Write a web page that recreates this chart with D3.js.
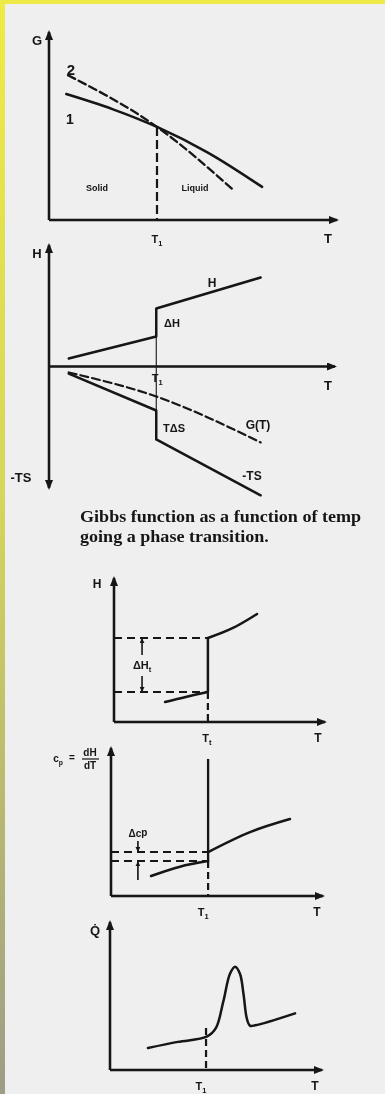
<!DOCTYPE html>
<html><head><meta charset="utf-8">
<script src="https://cdn.jsdelivr.net/npm/d3@7"></script>
<style>
html,body{margin:0;padding:0;background:#efefef;}
svg{display:block}
</style></head><body>
<svg id="c" width="385" height="1094"></svg>
<script>
// Thermodynamics of a first-order phase transition, five stacked panels.
// All values are in arbitrary axis units (0..10 unless noted).

// Panel 1: Gibbs energy of phase 1 (solid) and phase 2 (dashed)
const gT1 = 3.75;
const gPhase1 = [[0.6,6.7],[2.2,5.9],[3.75,4.95],[5.5,3.6],[7.4,1.76]];
const gPhase2 = [[0.66,7.7],[3.75,4.95],[6.4,1.6]];

// Panel 2: enthalpy, -TS and G(T) around the transition
const hsT1 = 3.75;
const enthalpy = [[0.69,0.66],[3.75,2.47],[3.75,4.77],[7.4,7.33]];
const negTS = [[0.69,-0.58],[3.75,-3.62],[3.75,-6.0],[7.4,-10.6]];
const gibbsT = [[0.69,-0.49],[3.75,-2.47],[7.4,-6.25]];

// Panel 3: H(T) with latent heat step
const hT1 = 4.45;
const hLow = [[2.42,1.39],[3.4,1.74],[4.45,2.08]];
const hHigh = [[4.45,5.83],[5.64,6.53],[6.78,7.5]];
const hLevels = [5.83, 2.08];

// Panel 4: heat capacity cp = dH/dT
const cT1 = 4.58;
const cpLow = [[1.89,1.35],[3.25,1.98],[4.58,2.36]];
const cpHigh = [[4.58,2.97],[6.56,4.32],[8.44,5.2]];
const cpLevels = [2.97, 2.36];
const cpSpike = 9.26;

// Panel 5: measured heat flow with the transition peak
const qT1 = 4.53;
const heatFlow = [[1.79,1.49],[3.2,1.9],[4.56,2.25],[5.0,2.85],[5.34,4.6],[5.66,6.5],
  [5.9,6.98],[6.13,6.5],[6.3,5.1],[6.45,3.5],[6.6,3.0],[6.85,3.02],[8.73,3.83]];

const ink = "#141414";
const svg = d3.select("#c");
const defs = svg.append("defs");

const edge = defs.append("linearGradient").attr("id","edge")
  .attr("x1",0).attr("y1",0).attr("x2",0).attr("y2",1);
edge.append("stop").attr("offset","0%").attr("stop-color","#eeeb45");
edge.append("stop").attr("offset","45%").attr("stop-color","#d6d65a");
edge.append("stop").attr("offset","100%").attr("stop-color","#9d9d88");

defs.append("filter").attr("id","soft")
  .attr("x","-5%").attr("y","-5%").attr("width","110%").attr("height","110%")
  .append("feGaussianBlur").attr("stdDeviation",0.55);

defs.append("marker").attr("id","arw").attr("markerUnits","userSpaceOnUse")
  .attr("viewBox","0 0 10 8").attr("markerWidth",10).attr("markerHeight",8)
  .attr("refX",8).attr("refY",4).attr("orient","auto-start-reverse")
  .append("path").attr("d","M0,0L10,4L0,8Z").attr("fill",ink);
defs.append("marker").attr("id","tip").attr("markerUnits","userSpaceOnUse")
  .attr("viewBox","0 0 6 6").attr("markerWidth",5).attr("markerHeight",5)
  .attr("refX",5).attr("refY",3).attr("orient","auto")
  .append("path").attr("d","M0,0L6,3L0,6Z").attr("fill",ink);

svg.append("rect").attr("width",385).attr("height",1094).attr("fill","#efefef");
svg.append("rect").attr("width",5).attr("height",1094).attr("fill","url(#edge)");
svg.append("rect").attr("width",385).attr("height",4).attr("fill","#ece948");

const root = svg.append("g").attr("filter","url(#soft)");
const sans = "'Liberation Sans', Arial, sans-serif";

function text(x, y, s, size, anchor) {
  return root.append("text").attr("x",x).attr("y",y).text(s)
    .attr("font-family",sans).attr("font-weight","bold")
    .attr("font-size",size).attr("fill",ink)
    .attr("text-anchor",anchor || "middle");
}
function sub(x, y, base, subs, size) {
  const t = text(x, y, base, size);
  t.append("tspan").attr("font-size",size*0.68).attr("dy",size*0.25).text(subs);
  return t;
}
function path(pts, x, y, curve, w, dash) {
  return root.append("path").datum(pts)
    .attr("d", d3.line().x(d=>x(d[0])).y(d=>y(d[1])).curve(curve)(pts))
    .attr("fill","none").attr("stroke",ink).attr("stroke-width",w)
    .attr("stroke-linecap","round").attr("stroke-linejoin","round")
    .attr("stroke-dasharray",dash || null);
}
function seg(x1,y1,x2,y2,w,dash) {
  return root.append("line").attr("x1",x1).attr("y1",y1).attr("x2",x2).attr("y2",y2)
    .attr("stroke",ink).attr("stroke-width",w).attr("stroke-dasharray",dash || null);
}
function axes(x, y, both) {
  const [x0, x1] = x.range();
  const y0 = both ? y(0) : y.range()[0];
  seg(x0, y0, x1, y0, 2.6).attr("marker-end","url(#arw)");
  const v = seg(x0, y.range()[0], x0, y.range()[1], 2.6).attr("marker-end","url(#arw)");
  if (both) v.attr("marker-start","url(#arw)");
}

// ---- Panel 1
{
  const x = d3.scaleLinear().domain([0,10]).range([49,337]);
  const y = d3.scaleLinear().domain([0,10]).range([220,32]);
  axes(x, y);
  seg(x(gT1), y(4.95), x(gT1), y(0), 2.2, "9,4");
  path(gPhase1, x, y, d3.curveMonotoneX, 2.5);
  path(gPhase2, x, y, d3.curveMonotoneX, 2.3, "8,4");
  text(37, 45, "G", 13);
  text(71, 75, "2", 15);
  text(70, 124, "1", 14);
  text(97, 191, "Solid", 9);
  text(195, 191, "Liquid", 9);
  sub(x(gT1), 243, "T", "1", 11);
  text(328, 243, "T", 13);
}

// ---- Panel 2
{
  const x = d3.scaleLinear().domain([0,10]).range([49,335]);
  const y = d3.scaleLinear().domain([-10,10]).range([488,245]);
  axes(x, y, true);
  seg(x(hsT1), y(2.47), x(hsT1), y(-3.62), 1.1);
  path(enthalpy, x, y, d3.curveLinear, 2.5);
  path(negTS, x, y, d3.curveLinear, 2.5);
  path(gibbsT, x, y, d3.curveMonotoneX, 2.2, "8,4");
  text(37, 258, "H", 13);
  text(21, 482, "-TS", 13);
  text(328, 390, "T", 13);
  sub(x(hsT1) + 1, 382, "T", "1", 11);
  text(212, 287, "H", 12);
  text(172, 327, "ΔH", 11);
  text(174, 432, "TΔS", 11);
  text(258, 429, "G(T)", 12);
  text(252, 480, "-TS", 12);
}

// ---- Caption
{
  const cap = root.append("g").attr("transform","translate(80,0) scale(1.13,1)")
    .attr("font-family","'Liberation Serif', 'Times New Roman', serif")
    .attr("font-weight","bold").attr("font-size",16).attr("fill",ink);
  cap.append("text").attr("x",0).attr("y",522).text("Gibbs function as a function of temp");
  cap.append("text").attr("x",0).attr("y",542).text("going a phase transition.");
}

// ---- Panel 3
{
  const x = d3.scaleLinear().domain([0,10]).range([114,325]);
  const y = d3.scaleLinear().domain([0,10]).range([722,578]);
  axes(x, y);
  hLevels.forEach(v => seg(x(0), y(v), x(hT1), y(v), 2, "8,5"));
  seg(x(hT1), y(hLevels[0]), x(hT1), y(hLevels[1]), 2.5);
  seg(x(hT1), y(hLevels[1]), x(hT1), y(0), 2.2, "7,4");
  path(hLow, x, y, d3.curveMonotoneX, 2.5);
  path(hHigh, x, y, d3.curveMonotoneX, 2.5);
  seg(x(1.33), 655, x(1.33), y(hLevels[0]) + 1, 1.6).attr("marker-end","url(#tip)");
  seg(x(1.33), 676, x(1.33), y(hLevels[1]) - 1, 1.6).attr("marker-end","url(#tip)");
  sub(x(1.33), 669, "ΔH", "t", 11);
  text(97, 588, "H", 12);
  sub(x(hT1) - 1, 742, "T", "t", 11);
  text(318, 742, "T", 12);
}

// ---- Panel 4
{
  const x = d3.scaleLinear().domain([0,10]).range([111,323]);
  const y = d3.scaleLinear().domain([0,10]).range([896,748]);
  axes(x, y);
  cpLevels.forEach(v => seg(x(0), y(v), x(cT1), y(v), 2, "8,5"));
  seg(x(cT1), y(cpSpike), x(cT1), y(cpLevels[1]), 2.3);
  seg(x(cT1), y(cpLevels[1]), x(cT1), y(0), 2.2, "7,4");
  path(cpLow, x, y, d3.curveMonotoneX, 2.5);
  path(cpHigh, x, y, d3.curveMonotoneX, 2.5);
  seg(x(1.27), 841, x(1.27), y(cpLevels[0]) - 1, 1.6).attr("marker-end","url(#tip)");
  seg(x(1.27), 880, x(1.27), y(cpLevels[1]) + 1, 1.6).attr("marker-end","url(#tip)");
  const dc = text(138, 837, "Δc", 10);
  dc.append("tspan").attr("dy",-1).text("p");
  sub(58, 762, "c", "p", 10).attr("text-anchor","middle");
  text(72, 761, "=", 10);
  text(90, 756, "dH", 10);
  seg(82, 759, 99, 759, 1.2);
  text(90, 769, "dT", 10);
  sub(x(cT1) - 5, 916, "T", "1", 11);
  text(317, 916, "T", 12);
}

// ---- Panel 5
{
  const x = d3.scaleLinear().domain([0,10]).range([110,322]);
  const y = d3.scaleLinear().domain([0,10]).range([1070,922]);
  axes(x, y);
  seg(x(qT1), y(2.84), x(qT1), y(0), 2.2, "7,4");
  path(heatFlow, x, y, d3.curveCatmullRom.alpha(0.5), 2.5);
  text(95, 935, "Q\u0307", 13);
  sub(x(qT1) - 5, 1090, "T", "1", 11);
  text(315, 1090, "T", 12);
}
</script>
</body></html>
